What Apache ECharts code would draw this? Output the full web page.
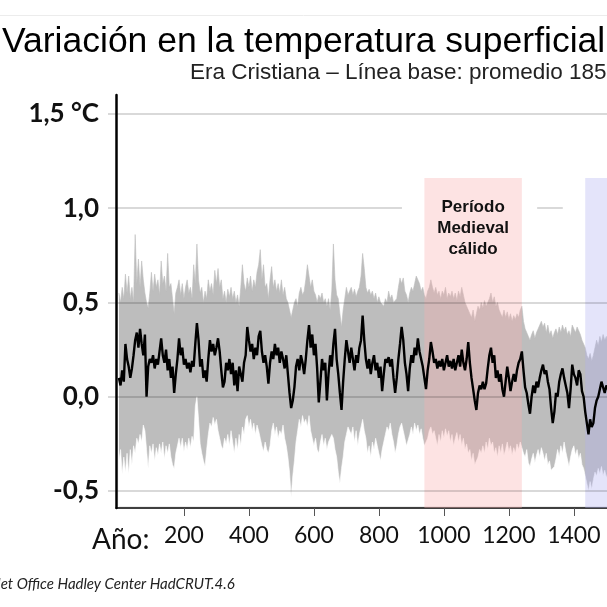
<!DOCTYPE html>
<html><head><meta charset="utf-8">
<script src="https://cdn.jsdelivr.net/npm/echarts@6/dist/echarts.min.js"></script>
<style>html,body{margin:0;padding:0;background:#fff}#c{width:607px;height:607px}</style>
</head><body><div id="c"></div>
<script>
// Years sampled every 5 years from year 0 to 1510
const YEAR_START = 0, YEAR_STEP = 5;

// Mean anomaly (black line), °C
const meanAnomaly = [
 0.10,0.06,0.14,0.08,0.28,0.20,0.16,0.10,0.15,0.22,
 0.30,0.34,0.26,0.36,0.28,0.22,0.33,0.00,0.16,0.20,
 0.18,0.22,0.15,0.20,0.17,0.24,0.31,0.22,0.18,0.25,
 0.14,0.20,0.10,0.16,0.02,0.12,0.20,0.31,0.22,0.26,
 0.17,0.20,0.15,0.18,0.13,0.19,0.16,0.28,0.39,0.30,
 0.16,0.20,0.10,0.14,0.08,0.20,0.30,0.24,0.28,0.22,
 0.26,0.31,0.24,0.14,0.05,0.08,0.18,0.14,0.20,0.12,
 0.18,0.06,0.14,0.03,0.16,0.12,0.08,0.18,0.22,0.37,
 0.30,0.24,0.28,0.20,0.26,0.22,0.32,0.35,0.24,0.18,
 0.22,0.16,0.07,0.18,0.24,0.20,0.28,0.22,0.26,0.18,
 0.24,0.20,0.15,0.22,0.12,0.02,-0.06,-0.02,0.05,0.16,
 0.20,0.14,0.22,0.18,0.12,0.20,0.30,0.38,0.26,0.33,
 0.22,0.28,0.15,-0.03,0.08,0.20,0.14,0.18,-0.02,0.12,
 0.22,0.16,0.28,0.36,0.20,0.12,0.02,-0.07,0.08,0.20,
 0.30,0.24,0.18,0.26,0.20,0.14,0.22,0.18,0.26,0.30,
 0.43,0.30,0.20,0.15,0.20,0.12,0.18,0.22,0.14,0.18,
 0.10,0.16,0.03,0.12,0.20,0.18,0.21,0.16,0.20,0.10,
 0.02,0.10,0.20,0.28,0.37,0.30,0.18,0.12,0.03,0.15,
 0.22,0.18,0.26,0.22,0.31,0.24,0.20,0.16,0.10,0.04,
 0.14,0.20,0.29,0.24,0.18,0.20,0.15,0.19,0.16,0.20,
 0.14,0.18,0.22,0.16,0.19,0.15,0.20,0.14,0.18,0.22,
 0.16,0.25,0.18,0.14,0.20,0.29,0.18,0.10,0.04,-0.02,
 -0.07,0.02,0.06,0.04,0.08,0.04,0.07,0.15,0.22,0.26,
 0.18,0.22,0.10,0.14,0.08,0.12,0.04,0.00,0.08,0.16,
 0.10,0.03,0.08,0.12,0.08,0.14,0.18,0.20,0.24,0.14,
 0.05,0.02,-0.04,-0.09,0.00,0.06,0.02,0.08,0.05,0.10,
 0.14,0.17,0.12,0.14,0.08,0.04,-0.06,-0.14,-0.08,0.02,
 0.00,0.08,0.12,0.15,0.10,0.06,0.02,-0.06,0.04,0.17,
 0.12,0.10,0.06,0.14,0.12,0.03,0.00,-0.08,-0.14,-0.20,
 -0.12,-0.16,-0.14,-0.06,-0.02,0.00,0.04,0.08,0.07,0.02,
 0.06,0.04,0.07
];

// Upper edge of the grey range
const upperBound = [
 0.55,0.50,0.58,0.52,0.65,0.55,0.64,0.52,0.58,0.50,
 0.86,0.60,0.73,0.58,0.72,0.62,0.55,0.50,0.47,0.55,
 0.66,0.56,0.65,0.58,0.62,0.54,0.72,0.60,0.64,0.56,
 0.76,0.58,0.60,0.52,0.44,0.55,0.58,0.62,0.54,0.60,
 0.52,0.58,0.62,0.55,0.58,0.52,0.70,0.60,0.81,0.62,
 0.55,0.58,0.50,0.56,0.52,0.62,0.56,0.60,0.54,0.67,
 0.60,0.68,0.58,0.62,0.52,0.56,0.50,0.57,0.53,0.58,
 0.52,0.56,0.50,0.54,0.48,0.58,0.70,0.60,0.56,0.63,
 0.58,0.64,0.56,0.62,0.58,0.66,0.70,0.78,0.62,0.70,
 0.58,0.60,0.52,0.62,0.69,0.58,0.62,0.56,0.60,0.55,
 0.62,0.54,0.58,0.52,0.50,0.46,0.42,0.46,0.50,0.52,
 0.48,0.55,0.58,0.54,0.56,0.62,0.70,0.64,0.58,0.62,
 0.56,0.54,0.50,0.54,0.52,0.55,0.50,0.52,0.48,0.52,
 0.46,0.56,0.81,0.62,0.54,0.52,0.44,0.37,0.46,0.52,
 0.58,0.54,0.56,0.58,0.54,0.57,0.53,0.56,0.58,0.64,
 0.76,0.68,0.58,0.55,0.57,0.54,0.56,0.52,0.55,0.50,
 0.53,0.50,0.51,0.48,0.52,0.50,0.56,0.52,0.54,0.50,
 0.49,0.52,0.58,0.63,0.60,0.63,0.56,0.54,0.50,0.55,
 0.58,0.56,0.60,0.64,0.65,0.60,0.56,0.58,0.54,0.52,
 0.56,0.58,0.62,0.58,0.55,0.58,0.54,0.56,0.52,0.56,
 0.54,0.58,0.52,0.55,0.53,0.56,0.52,0.55,0.51,0.56,
 0.53,0.58,0.54,0.50,0.48,0.46,0.44,0.42,0.46,0.40,
 0.44,0.48,0.46,0.50,0.47,0.51,0.48,0.50,0.52,0.55,
 0.50,0.53,0.48,0.50,0.46,0.44,0.42,0.46,0.42,0.45,
 0.41,0.44,0.40,0.43,0.41,0.44,0.42,0.46,0.48,0.40,
 0.36,0.34,0.32,0.30,0.33,0.35,0.31,0.34,0.36,0.38,
 0.40,0.37,0.39,0.34,0.38,0.33,0.35,0.31,0.34,0.36,
 0.33,0.37,0.34,0.38,0.35,0.37,0.33,0.35,0.32,0.38,
 0.36,0.34,0.37,0.35,0.33,0.30,0.31,0.26,0.22,0.20,
 0.23,0.19,0.22,0.26,0.30,0.27,0.32,0.29,0.33,0.30,
 0.32,0.29,0.31
];

// Lower edge of the grey range
const lowerBound = [
 -0.34,-0.28,-0.41,-0.32,-0.40,-0.30,-0.41,-0.28,-0.36,-0.26,
 -0.30,-0.22,-0.25,-0.20,-0.24,-0.15,-0.18,-0.28,-0.38,-0.26,
 -0.30,-0.25,-0.34,-0.27,-0.31,-0.25,-0.30,-0.24,-0.33,-0.26,
 -0.30,-0.25,-0.32,-0.36,-0.38,-0.30,-0.26,-0.22,-0.27,-0.22,
 -0.29,-0.24,-0.28,-0.22,-0.27,-0.21,-0.24,-0.05,0.00,-0.12,
 -0.25,-0.30,-0.34,-0.37,-0.28,-0.20,-0.14,-0.16,-0.11,-0.15,
 -0.12,-0.18,-0.22,-0.26,-0.28,-0.22,-0.25,-0.20,-0.26,-0.18,
 -0.24,-0.30,-0.22,-0.28,-0.20,-0.26,-0.16,-0.20,-0.12,-0.10,
 -0.16,-0.12,-0.18,-0.14,-0.20,-0.15,-0.18,-0.22,-0.26,-0.29,
 -0.24,-0.28,-0.30,-0.26,-0.18,-0.14,-0.20,-0.16,-0.22,-0.18,
 -0.20,-0.15,-0.22,-0.26,-0.32,-0.40,-0.53,-0.42,-0.34,-0.24,
 -0.18,-0.12,-0.16,-0.10,-0.14,-0.12,-0.16,-0.10,-0.18,-0.22,
 -0.26,-0.22,-0.28,-0.30,-0.24,-0.20,-0.26,-0.22,-0.28,-0.24,
 -0.25,-0.20,-0.22,-0.28,-0.32,-0.40,-0.46,-0.38,-0.32,-0.24,
 -0.20,-0.16,-0.15,-0.20,-0.16,-0.24,-0.18,-0.26,-0.20,-0.16,
 -0.12,-0.18,-0.22,-0.30,-0.26,-0.32,-0.24,-0.28,-0.22,-0.26,
 -0.30,-0.34,-0.28,-0.24,-0.20,-0.16,-0.18,-0.14,-0.20,-0.24,
 -0.30,-0.26,-0.20,-0.16,-0.14,-0.18,-0.22,-0.26,-0.27,-0.20,
 -0.16,-0.20,-0.14,-0.18,-0.15,-0.20,-0.17,-0.22,-0.26,-0.27,
 -0.22,-0.18,-0.16,-0.20,-0.18,-0.22,-0.26,-0.20,-0.24,-0.18,
 -0.22,-0.17,-0.21,-0.18,-0.24,-0.20,-0.26,-0.22,-0.19,-0.24,
 -0.20,-0.26,-0.22,-0.28,-0.25,-0.30,-0.28,-0.34,-0.30,-0.36,
 -0.37,-0.32,-0.28,-0.30,-0.26,-0.30,-0.24,-0.28,-0.22,-0.26,
 -0.24,-0.30,-0.27,-0.32,-0.26,-0.30,-0.25,-0.31,-0.28,-0.24,
 -0.29,-0.26,-0.31,-0.27,-0.30,-0.25,-0.28,-0.24,-0.27,-0.30,
 -0.32,-0.28,-0.35,-0.37,-0.33,-0.30,-0.35,-0.31,-0.28,-0.32,
 -0.27,-0.30,-0.34,-0.30,-0.36,-0.34,-0.39,-0.40,-0.37,-0.33,
 -0.28,-0.32,-0.26,-0.30,-0.24,-0.29,-0.33,-0.37,-0.32,-0.28,
 -0.26,-0.31,-0.28,-0.33,-0.30,-0.36,-0.38,-0.42,-0.46,-0.50,
 -0.45,-0.49,-0.44,-0.40,-0.42,-0.38,-0.41,-0.37,-0.42,-0.39,
 -0.43,-0.40,-0.42
];

// Axis ticks
const xTickYears = [200, 400, 600, 800, 1000, 1200, 1400];
const yTickValues = [-0.5, 0, 0.5, 1.0, 1.5];

// Shaded periods
const periodNames = ['Período\nMedieval\ncálido', ''];
const periodFrom = [940, 1435];
const periodTo = [1240, 1502];
const periodTop = 1.16;

// Axis extents (the chart is cropped at the right edge)
const X_MIN = -9, X_MAX = 1502, Y_MIN = -0.59, Y_MAX = 1.6;

const years = meanAnomaly.map((_, i) => YEAR_START + i * YEAR_STEP);
const meanData = years.map((y, i) => [y, meanAnomaly[i]]);
const lowerData = years.map((y, i) => [y, lowerBound[i]]);
const upperData = years.map((y, i) => [y, upperBound[i]]);

const gridColor = 'rgba(0,0,0,0.2)';
const gridSegments = [];
yTickValues.forEach(v => {
  if (v === 1.0) {
    gridSegments.push([{coord: [X_MIN, v]}, {coord: [871, v]}]);
    gridSegments.push([{coord: [1287, v]}, {coord: [1366, v]}]);
  } else {
    gridSegments.push([{coord: [X_MIN, v]}, {coord: [X_MAX, v]}]);
  }
});

const periodColors = ['rgba(250,175,175,0.35)', 'rgba(178,178,241,0.35)'];
const areas = periodFrom.map((f, i) => [
  {xAxis: f, yAxis: Y_MIN, name: periodNames[i], itemStyle: {color: periodColors[i]}},
  {xAxis: periodTo[i], yAxis: periodTop}
]);

const AREA_BASE = -0.582;

const chart = echarts.init(document.getElementById('c'), null, {renderer: 'canvas'});
chart.setOption({
  animation: false,
  grid: {left: 116, top: 95, right: 0, height: 413, containLabel: false},
  xAxis: {
    type: 'value', min: X_MIN, max: X_MAX,
    axisLine: {show: true, onZero: false, lineStyle: {color: '#000', width: 1.5}},
    axisTick: {show: true, customValues: xTickYears, length: 8, lineStyle: {color: '#555', width: 1}},
    axisLabel: {customValues: xTickYears, margin: 16, fontFamily: 'Lato', fontSize: 23, color: '#111',
      formatter: v => String(v)},
    splitLine: {show: false}
  },
  yAxis: {
    type: 'value', min: Y_MIN, max: Y_MAX,
    axisLine: {show: true, onZero: false, lineStyle: {color: '#000', width: 2.5}},
    axisTick: {show: true, customValues: yTickValues, length: 8, lineStyle: {color: gridColor, width: 1.5}},
    axisLabel: {customValues: yTickValues, margin: 17, fontFamily: 'Lato', fontWeight: 'bold', fontSize: 26, color: '#111',
      formatter: v => { const s = v.toFixed(1).replace('.', ','); return Math.abs(v - 1.5) < 1e-9 ? s + ' °C' : s; }},
    splitLine: {show: false}
  },
  series: [
    {type: 'line', name: 'upper', data: upperData, showSymbol: false, silent: true,
      lineStyle: {width: 0.6, color: '#bdbdbd'}, areaStyle: {color: '#bdbdbd', opacity: 1, origin: AREA_BASE}, z: 1},
    {type: 'line', name: 'lower', data: lowerData, showSymbol: false, silent: true,
      lineStyle: {width: 0.6, color: '#ffffff'}, areaStyle: {color: '#ffffff', opacity: 1, origin: AREA_BASE}, z: 1.5},
    {type: 'line', name: 'periods', data: meanData, showSymbol: false, silent: true,
      lineStyle: {opacity: 0}, z: 3,
      markArea: {silent: true, z: 3, data: areas,
        label: {show: true, position: 'insideTop', distance: 19, fontFamily: '"Liberation Sans", Arial',
          fontWeight: 'bold', fontSize: 17, lineHeight: 21, color: '#111', align: 'center'}}},
    {type: 'line', name: 'gridlines', data: meanData, showSymbol: false, silent: true,
      lineStyle: {opacity: 0}, z: 4,
      markLine: {silent: true, z: 4, symbol: ['none', 'none'], label: {show: false},
        lineStyle: {type: 'solid', color: gridColor, width: 1.5}, data: gridSegments}},
    {type: 'line', name: 'mean', data: meanData, showSymbol: false, silent: true,
      lineStyle: {color: '#000', width: 2.4}, z: 6}
  ],
  graphic: [
    {type: 'line', shape: {x1: 0, y1: 15.5, x2: 607, y2: 15.5}, style: {stroke: '#ececec', lineWidth: 1}},
    {type: 'text', x: 2, y: 42, style: {text: 'Variación en la temperatura superficial',
      font: '35.5px "Liberation Sans", Arial', fill: '#000', align: 'left', verticalAlign: 'middle'}},
    {type: 'text', x: 190, y: 73, style: {text: 'Era Cristiana – Línea base: promedio 185',
      font: '22.5px "Liberation Sans", Arial', fill: '#222', align: 'left', verticalAlign: 'middle'}},
    {type: 'text', x: 92, y: 540, style: {text: 'Año:',
      font: '28px Lato', fill: '#111', align: 'left', verticalAlign: 'middle'}},
    {type: 'text', x: -12, y: 584, style: {text: 'Met Office Hadley Center HadCRUT.4.6',
      font: 'italic 15px Lato', fill: '#222', align: 'left', verticalAlign: 'middle'}}
  ]
});
</script>
</body></html>
